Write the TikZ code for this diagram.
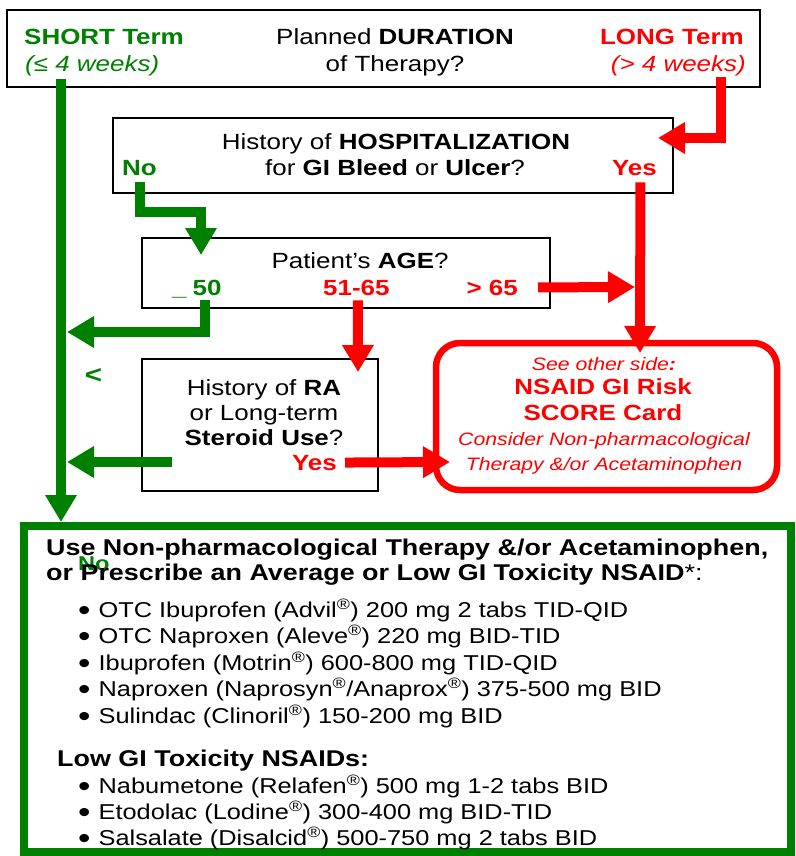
\documentclass[tikz,border=0pt]{standalone}
\usepackage{fontspec}
\setmainfont{Liberation Sans}[FakeStretch=1.18]
\usetikzlibrary{arrows.meta}
\definecolor{darkgreen}{RGB}{0,128,0}
\definecolor{brightred}{RGB}{255,0,0}
\newcommand{\bigdot}{{\fontsize{30}{30}\selectfont\raisebox{-3pt}{\textbullet}}\hspace{8pt}}

\begin{document}
\begin{tikzpicture}[x=1pt, y=-1pt,
    box/.style={draw, line width=1.5pt, inner sep=0pt},
    txt/.style={inner sep=0pt, font=\fontsize{22}{26}\selectfont},
    gtxt/.style={txt, text=darkgreen, font=\fontsize{22}{26}\selectfont\bfseries},
    rtxt/.style={txt, text=brightred, font=\fontsize{22}{26}\selectfont\bfseries},
    ritxt/.style={txt, text=brightred, font=\fontsize{22}{26}\selectfont\itshape},
    cardit/.style={txt, text=brightred, font=\fontsize{18}{22}\selectfont\itshape},
    headtxt/.style={txt, anchor=base west, font=\fontsize{22.8}{26}\selectfont\bfseries},
    listtxt/.style={txt, anchor=base west, font=\fontsize{21.5}{26}\selectfont},
    garrow/.style={draw=darkgreen, line width=10pt, -{Triangle[width=30pt,length=27pt]}},
    rarrow/.style={draw=brightred, line width=10pt, -{Triangle[width=30pt,length=27pt]}}]
    \useasboundingbox (0,0) rectangle (795,856);

    % duration
    \node [box, minimum width=753pt, minimum height=77pt] (dur) at (383.5,48.5) {};
    \node [gtxt, anchor=base west] (short) at (24,45) {SHORT Term};
    \node [txt, text=darkgreen, font=\fontsize{22}{26}\selectfont\itshape, anchor=base west] (shortsub) at (25,72) {(≤ 4 weeks)};
    \node [txt, anchor=base] (durq) at (395,45) {Planned \textbf{DURATION}};
    \node [txt, anchor=base] (durq2) at (395,72) {of Therapy?};
    \node [rtxt, anchor=base east] (long) at (744,45) {LONG Term};
    \node [ritxt, anchor=base east] (longsub) at (746,72) {(> 4 weeks)};

    % hospitalization
    \node [box, minimum width=560pt, minimum height=75pt] (hosp) at (393,155.5) {};
    \node [txt, anchor=base] (hospq) at (396,149) {History of \textbf{HOSPITALIZATION}};
    \node [txt, anchor=base] (hospq2) at (395,175) {for \textbf{GI Bleed} or \textbf{Ulcer}?};
    \node [gtxt, anchor=base west] (no) at (122,175) {No};
    \node [rtxt, anchor=base east] (yes1) at (657,175) {Yes};

    % age
    \node [box, minimum width=408pt, minimum height=70pt] (age) at (346,273) {};
    \node [txt, anchor=base] (ageq) at (360,268) {Patient’s \textbf{AGE}?};
    \node [gtxt, anchor=base west] (a50) at (172,295) {\symbol{"5F}\hspace{6pt}50};
    \node [rtxt, anchor=base west] (a5165) at (323,295) {51-65};
    \node [rtxt, anchor=base east] (a65) at (518,295) {> 65};

    % RA / steroid
    \node [box, minimum width=236pt, minimum height=132pt] (ra) at (260,425) {};
    \node [txt, anchor=base] (raq) at (264,395) {History of \textbf{RA}};
    \node [txt, anchor=base] (raq2) at (264,420) {or Long-term};
    \node [txt, anchor=base] (raq3) at (264,445) {\textbf{Steroid Use}?};
    \node [rtxt, anchor=base east] (yes2) at (337,470) {Yes};
    \node [txt, text=darkgreen, font=\fontsize{25}{26}\selectfont\bfseries] (lt) at (93.5,375.5) {<};

    % score card
    \node [draw=brightred, line width=6.5pt, rounded corners=24pt, minimum width=341pt, minimum height=147pt, inner sep=0pt] (score) at (606.5,416.5) {};
    \node [cardit, anchor=base] (see) at (604,370) {See other side\textbf{:}};
    \node [rtxt, anchor=base] (card1) at (603,394) {NSAID GI Risk};
    \node [rtxt, anchor=base] (card2) at (603,420) {SCORE Card};
    \node [cardit, anchor=base] (card3) at (604,445) {Consider Non-pharmacological};
    \node [cardit, anchor=base] (card4) at (604,470) {Therapy \&/or Acetaminophen};

    % treatment list
    \node [draw=darkgreen, line width=8pt, minimum width=767pt, minimum height=326pt, inner sep=0pt] (list) at (407.5,689) {};
    \node [txt, text=darkgreen, font=\fontsize{20}{22}\selectfont\bfseries, anchor=base west] (no2) at (78,570) {No};
    \node [headtxt] (use1) at (46,555) {Use Non-pharmacological Therapy \&/or Acetaminophen,};
    \node [headtxt] (use2) at (46,580) {or Prescribe an Average or Low GI Toxicity NSAID\textmd{*:}};
    \node [listtxt] (d1) at (78,617) {\bigdot OTC Ibuprofen (Advil\textsuperscript{\textregistered}) 200 mg 2 tabs TID-QID};
    \node [listtxt] (d2) at (78,643) {\bigdot OTC Naproxen (Aleve\textsuperscript{\textregistered}) 220 mg BID-TID};
    \node [listtxt] (d3) at (78,670) {\bigdot Ibuprofen (Motrin\textsuperscript{\textregistered}) 600-800 mg TID-QID};
    \node [listtxt] (d4) at (78,696) {\bigdot Naproxen (Naprosyn\textsuperscript{\textregistered}/Anaprox\textsuperscript{\textregistered}) 375-500 mg BID};
    \node [listtxt] (d5) at (78,723) {\bigdot Sulindac (Clinoril\textsuperscript{\textregistered}) 150-200 mg BID};
    \node [headtxt] (low) at (57,766) {Low GI Toxicity NSAIDs:};
    \node [listtxt] (d6) at (78,793) {\bigdot Nabumetone (Relafen\textsuperscript{\textregistered}) 500 mg 1-2 tabs BID};
    \node [listtxt] (d7) at (78,819) {\bigdot Etodolac (Lodine\textsuperscript{\textregistered}) 300-400 mg BID-TID};
    \node [listtxt] (d8) at (78,845) {\bigdot Salsalate (Disalcid\textsuperscript{\textregistered}) 500-750 mg 2 tabs BID};

    % connectors
    \coordinate (trunk) at (61,79);
    \coordinate (tlong) at (658,138);
    \coordinate (tno) at (201,255);
    \coordinate (tyes) at (640,353);
    \coordinate (tmid) at (358,372);
    \coordinate (t65) at (635,287);
    \coordinate (t50) at (67,332);
    \coordinate (tra) at (67,462);
    \coordinate (tyes2) at (450,462);
    \draw [garrow] (trunk) -- (trunk |- list.north);
    \draw [rarrow] ([xshift=43pt]longsub.south) |- (tlong);
    \draw [garrow] ([yshift=-7pt]no.south) -- ++(0,30) -| (tno);
    \draw [rarrow] ([xshift=6pt,yshift=-7pt]yes1.south) -- (tyes);
    \draw [rarrow] ([xshift=1.5pt,yshift=-5pt]a5165.south) -- (tmid);
    \draw [rarrow] ([xshift=20pt]a65.east) -- (t65);
    \draw [garrow] ([xshift=8pt,yshift=-2pt]a50.south) |- (t50);
    \draw [garrow] ([xshift=31pt,yshift=-37pt]ra.west) -- (tra);
    \draw [rarrow] ([xshift=8pt]yes2.east) -- (tyes2);
\end{tikzpicture}
\end{document}
